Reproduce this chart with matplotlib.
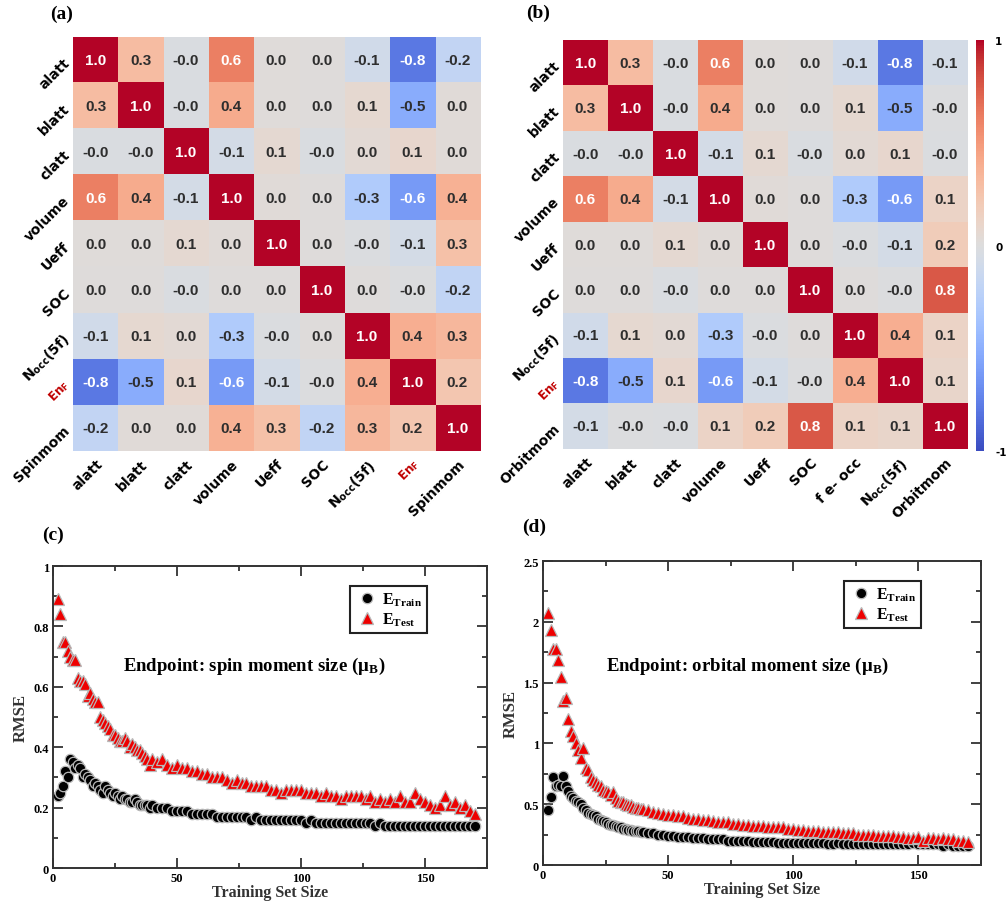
import matplotlib
matplotlib.use('Agg')
import matplotlib.pyplot as plt
import numpy as np
from matplotlib.ticker import MultipleLocator, FormatStrFormatter

# Global text settings
matplotlib.rcParams['mathtext.fontset'] = 'stix'

######## DATA #########
labels_a_y = ['alatt', 'blatt', 'clatt', 'volume', 'Ueff', 'SOC',
              r'N$_\mathregular{occ}$(5f)', r'En$_\mathregular{F}$', 'Spinmom']
labels_a_x = labels_a_y
labels_b_y = ['alatt', 'blatt', 'clatt', 'volume', 'Ueff', 'SOC',
              r'N$_\mathregular{occ}$(5f)', r'En$_\mathregular{F}$', 'Orbitmom']
labels_b_x = ['alatt', 'blatt', 'clatt', 'volume', 'Ueff', 'SOC',
              'f e- occ', r'N$_\mathregular{occ}$(5f)', 'Orbitmom']

corr_a = np.array([
    [ 1.00,  0.30, -0.03,  0.62,  0.02,  0.01, -0.09, -0.79, -0.18],
    [ 0.30,  1.00, -0.03,  0.40,  0.02,  0.01,  0.07, -0.52,  0.03],
    [-0.03, -0.03,  1.00, -0.07,  0.06, -0.03,  0.04,  0.08,  0.03],
    [ 0.62,  0.40, -0.07,  1.00,  0.03,  0.01, -0.29, -0.62,  0.37],
    [ 0.02,  0.02,  0.06,  0.03,  1.00,  0.01, -0.02, -0.07,  0.27],
    [ 0.01,  0.01, -0.03,  0.01,  0.01,  1.00,  0.01, -0.01, -0.19],
    [-0.09,  0.07,  0.04, -0.29, -0.02,  0.01,  1.00,  0.39,  0.33],
    [-0.79, -0.52,  0.08, -0.62, -0.07, -0.01,  0.39,  1.00,  0.23],
    [-0.18,  0.03,  0.03,  0.37,  0.27, -0.19,  0.33,  0.23,  1.00]])

corr_b = np.array([
    [ 1.00,  0.30, -0.03,  0.62,  0.02,  0.01, -0.09, -0.79, -0.07],
    [ 0.30,  1.00, -0.03,  0.40,  0.02,  0.01,  0.07, -0.52, -0.01],
    [-0.03, -0.03,  1.00, -0.07,  0.06, -0.03,  0.04,  0.08, -0.02],
    [ 0.62,  0.40, -0.07,  1.00,  0.03,  0.01, -0.29, -0.62,  0.12],
    [ 0.02,  0.02,  0.06,  0.03,  1.00,  0.01, -0.02, -0.07,  0.18],
    [ 0.01,  0.01, -0.03,  0.01,  0.01,  1.00,  0.01, -0.01,  0.78],
    [-0.09,  0.07,  0.04, -0.29, -0.02,  0.01,  1.00,  0.39,  0.12],
    [-0.79, -0.52,  0.08, -0.62, -0.07, -0.01,  0.39,  1.00,  0.10],
    [-0.07, -0.01, -0.02,  0.12,  0.18,  0.78,  0.12,  0.10,  1.00]])

# training set sizes (every point up to 40, then every second one)
set_size = np.concatenate([np.arange(2, 41), np.arange(42, 171, 2)])

spin_train = [0.24, 0.25, 0.27, 0.32, 0.30, 0.36, 0.35, 0.33, 0.34, 0.33,
              0.30, 0.31, 0.30, 0.29, 0.27, 0.28, 0.27, 0.26, 0.25, 0.27,
              0.26, 0.25, 0.24, 0.25, 0.24, 0.23, 0.24, 0.23, 0.23, 0.22,
              0.22, 0.23, 0.22, 0.21, 0.21, 0.21, 0.21, 0.20, 0.21,
              0.20, 0.20, 0.20, 0.19, 0.19, 0.19, 0.19, 0.18, 0.18, 0.18,
              0.18, 0.18, 0.17, 0.17, 0.17, 0.17, 0.17, 0.17, 0.17, 0.16,
              0.17, 0.16, 0.16, 0.16, 0.16, 0.16, 0.16, 0.16, 0.16, 0.16,
              0.15, 0.16, 0.15, 0.15, 0.15, 0.15, 0.15, 0.15, 0.15, 0.15,
              0.15, 0.15, 0.15, 0.15, 0.14, 0.15, 0.14, 0.14, 0.14, 0.14,
              0.14, 0.14, 0.14, 0.14, 0.14, 0.14, 0.14, 0.14, 0.14, 0.14,
              0.14, 0.14, 0.14, 0.14, 0.14]
spin_test = [0.89, 0.84, 0.75, 0.75, 0.72, 0.70, 0.69, 0.69, 0.63, 0.62,
             0.62, 0.61, 0.57, 0.58, 0.56, 0.55, 0.55, 0.50, 0.49, 0.48,
             0.47, 0.46, 0.44, 0.44, 0.43, 0.42, 0.42, 0.43, 0.42, 0.40,
             0.41, 0.40, 0.39, 0.39, 0.38, 0.37, 0.36, 0.34, 0.36,
             0.35, 0.36, 0.34, 0.33, 0.34, 0.33, 0.33, 0.32, 0.32, 0.31,
             0.31, 0.30, 0.30, 0.30, 0.29, 0.28, 0.29, 0.28, 0.28, 0.27,
             0.27, 0.27, 0.27, 0.26, 0.26, 0.25, 0.26, 0.26, 0.26, 0.26,
             0.25, 0.25, 0.25, 0.24, 0.25, 0.24, 0.24, 0.23, 0.24, 0.24,
             0.24, 0.24, 0.23, 0.24, 0.22, 0.23, 0.22, 0.23, 0.22, 0.24,
             0.22, 0.22, 0.25, 0.23, 0.22, 0.21, 0.20, 0.21, 0.24, 0.21,
             0.22, 0.20, 0.21, 0.19, 0.18]

orb_train = [0.45, 0.56, 0.72, 0.65, 0.66, 0.65, 0.73, 0.65, 0.61, 0.57,
             0.55, 0.53, 0.52, 0.50, 0.47, 0.45, 0.43, 0.42, 0.41, 0.40,
             0.38, 0.37, 0.36, 0.35, 0.34, 0.33, 0.33, 0.32, 0.31, 0.31,
             0.30, 0.30, 0.29, 0.29, 0.28, 0.28, 0.28, 0.27, 0.27,
             0.26, 0.26, 0.25, 0.25, 0.24, 0.24, 0.23, 0.23, 0.23, 0.22,
             0.22, 0.22, 0.21, 0.21, 0.21, 0.21, 0.20, 0.20, 0.20, 0.20,
             0.20, 0.19, 0.19, 0.19, 0.19, 0.19, 0.18, 0.18, 0.18, 0.18,
             0.18, 0.18, 0.18, 0.18, 0.18, 0.18, 0.17, 0.17, 0.18, 0.17,
             0.17, 0.17, 0.17, 0.17, 0.17, 0.17, 0.17, 0.17, 0.17, 0.17,
             0.17, 0.17, 0.17, 0.18, 0.17, 0.17, 0.17, 0.17, 0.17, 0.16,
             0.17, 0.16, 0.16, 0.16, 0.16]
orb_test = [2.07, 1.93, 1.78, 1.78, 1.69, 1.55, 1.35, 1.37, 1.20, 1.10,
            1.06, 1.00, 0.95, 0.88, 0.96, 0.80, 0.78, 0.72, 0.70, 0.68,
            0.66, 0.65, 0.62, 0.61, 0.60, 0.58, 0.60, 0.55, 0.53, 0.52,
            0.52, 0.50, 0.49, 0.49, 0.48, 0.47, 0.47, 0.46, 0.46,
            0.45, 0.44, 0.43, 0.42, 0.41, 0.41, 0.40, 0.40, 0.39, 0.38,
            0.38, 0.37, 0.37, 0.36, 0.35, 0.35, 0.35, 0.34, 0.34, 0.33,
            0.33, 0.32, 0.32, 0.32, 0.31, 0.31, 0.31, 0.31, 0.30, 0.30,
            0.29, 0.29, 0.28, 0.28, 0.28, 0.27, 0.27, 0.27, 0.27, 0.26,
            0.26, 0.26, 0.25, 0.25, 0.25, 0.25, 0.24, 0.24, 0.24, 0.24,
            0.23, 0.23, 0.22, 0.22, 0.23, 0.20, 0.22, 0.22, 0.21, 0.22,
            0.21, 0.21, 0.20, 0.20, 0.19]
####################################

SANS = 'DejaVu Sans'
NUMF = 'Liberation Sans'
SERIF = 'Liberation Serif'
ENF_COLOR = '#c00000'


def _heatmap(ax, corr, ylabels, xlabels):
    n = corr.shape[0]
    im = ax.imshow(corr, cmap='coolwarm', vmin=-1, vmax=1, aspect='auto',
                   interpolation='nearest')
    for i in range(n):
        for j in range(n):
            v = corr[i, j]
            c = 'w' if abs(v) > 0.55 else '#2e2e2e'
            ax.text(j, i, '%.1f' % v, ha='center', va='center', color=c,
                    fontsize=11, fontweight='bold', family=NUMF)
    ax.set_xticks(np.arange(n))
    ax.set_yticks(np.arange(n))
    ax.set_xticklabels(xlabels, rotation=45, ha='right', va='top',
                       rotation_mode='anchor', fontsize=10, fontweight='bold',
                       family=SANS)
    ax.set_yticklabels(ylabels, rotation=45, ha='right', va='center',
                       rotation_mode='anchor', fontsize=10, fontweight='bold',
                       family=SANS)
    for lab in ax.get_xticklabels() + ax.get_yticklabels():
        if 'En' in lab.get_text():
            lab.set_color(ENF_COLOR)
            lab.set_fontsize(8.5)
    ax.tick_params(length=0, pad=4)
    for s in ax.spines.values():
        s.set_visible(False)
    return im


def _rmse(ax, x, train, test, ymax, ymajor, yminor, text, text_xy):
    ax.plot(x, train, 'o', color='k', ms=7.5, mec='#b8b8b8', mew=0.9,
            label=r'E$_\mathregular{Train}$')
    ax.plot(x, test, '^', color='#ee0000', ms=8.5, mec='#b8b8b8', mew=0.9,
            label=r'E$_\mathregular{Test}$')
    ax.set_xlim(0, 175)
    ax.set_ylim(0, ymax)
    ax.xaxis.set_major_locator(MultipleLocator(50))
    ax.xaxis.set_minor_locator(MultipleLocator(25))
    ax.yaxis.set_major_locator(MultipleLocator(ymajor))
    ax.yaxis.set_minor_locator(MultipleLocator(yminor))
    ax.yaxis.set_major_formatter(FormatStrFormatter('%g'))
    ax.tick_params(which='both', direction='in', top=True, right=True,
                   width=1.3, color='#333333')
    ax.tick_params(which='major', length=7, labelsize=9, pad=3)
    ax.tick_params(which='minor', length=3.5)
    for lab in ax.get_xticklabels() + ax.get_yticklabels():
        lab.set_family(SERIF)
        lab.set_fontweight('bold')
    for s in ax.spines.values():
        s.set_linewidth(1.4)
        s.set_color('#333333')
    ax.set_xlabel('Training Set Size', family=SERIF, fontweight='bold',
                  fontsize=11.5, labelpad=0, color='#333333')
    ax.set_ylabel('RMSE', family=SERIF, fontweight='bold', fontsize=12,
                  labelpad=3, color='#333333')
    ax.text(text_xy[0], text_xy[1], text, transform=ax.transAxes,
            ha='center', va='center', family=SERIF, fontweight='bold',
            fontsize=13.5)
    leg = ax.legend(loc='upper right', bbox_to_anchor=(0.862, 0.935),
                    fancybox=False, edgecolor='#222222', framealpha=1,
                    prop={'family': SERIF, 'weight': 'bold', 'size': 11.5},
                    handletextpad=0.2, borderpad=0.3, labelspacing=0.2,
                    handlelength=1.5, borderaxespad=0)
    leg.get_frame().set_linewidth(1.5)


########### BEGIN CODE #############
fig = plt.figure(figsize=(10.08, 9.04), dpi=100)

ax_a = fig.add_axes([0.0724, 0.5, 0.4038, 0.458])
ax_b = fig.add_axes([0.5585, 0.5022, 0.4008, 0.4524])
cax = fig.add_axes([0.9683, 0.5, 0.0079, 0.4546])
ax_c = fig.add_axes([0.0526, 0.0387, 0.4306, 0.334])
ax_d = fig.add_axes([0.5387, 0.042, 0.4345, 0.3363])

_heatmap(ax_a, corr_a, labels_a_y, labels_a_x)
im = _heatmap(ax_b, corr_b, labels_b_y, labels_b_x)

cb = fig.colorbar(im, cax=cax, ticks=[-1, 0, 1])
cb.outline.set_visible(False)
cb.ax.tick_params(length=0, pad=8, labelsize=7.5)
cb.ax.set_yticklabels(['-1', '0', '1'], fontweight='bold', family=SANS)

_rmse(ax_c, set_size, spin_train, spin_test, 1.0, 0.2, 0.1,
      r'Endpoint: spin moment size (μ$_\mathregular{B}$)', (0.463, 0.672))
_rmse(ax_d, set_size, orb_train, orb_test, 2.5, 0.5, 0.25,
      r'Endpoint: orbital moment size (μ$_\mathregular{B}$)', (0.468, 0.655))

# panel letters
for lbl, px, py in [('(a)', 62, 14), ('(b)', 538, 13), ('(c)', 53, 535), ('(d)', 534, 527)]:
    fig.text(px / 1008, 1 - py / 904, lbl, ha='center', va='center',
             family=SERIF, fontweight='bold', fontsize=14)

fig.savefig('out.png', dpi=100)
